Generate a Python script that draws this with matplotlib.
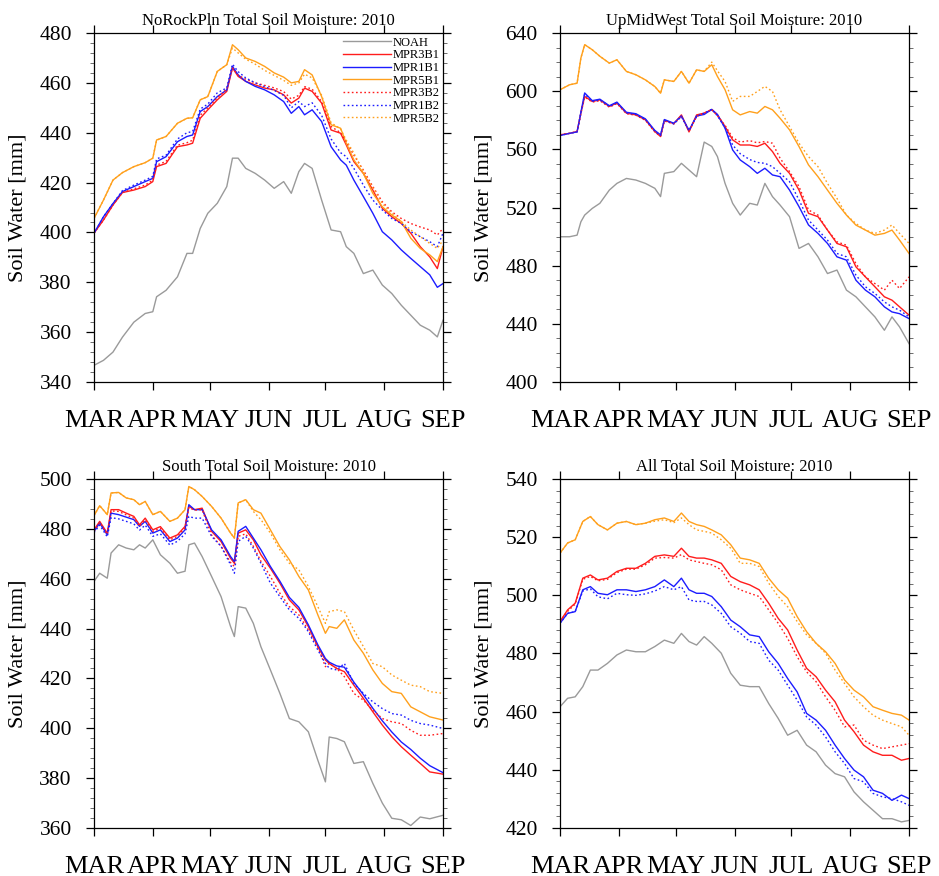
import numpy as np
import matplotlib
matplotlib.use("Agg")
import matplotlib.pyplot as plt
from matplotlib.ticker import MultipleLocator, AutoMinorLocator

plt.rcParams['font.family'] = ['Liberation Serif', 'DejaVu Serif']

# x axis: days since 1 March 2010
months = ['MAR', 'APR', 'MAY', 'JUN', 'JUL', 'AUG', 'SEP']
month_len = [31, 30, 31, 30, 31, 31]
month_start = np.concatenate([[0], np.cumsum(month_len)])

names = ['NOAH', 'MPR3B1', 'MPR1B1', 'MPR5B1', 'MPR3B2', 'MPR1B2', 'MPR5B2']
colors = ['#9a9a9a', '#ff1c1c', '#1c1cff', '#ffa01c', '#ff1c1c', '#1c1cff', '#ffa01c']

# --- NoRockPln ---
days_nrp = [0, 5, 10, 15, 21, 27, 31, 33, 38, 44, 49, 52, 56, 60, 65, 70, 73, 76, 80, 85,
            90, 95, 100, 104, 108, 111, 115, 120, 125, 130, 133, 137, 142, 147, 152, 157,
            162, 167, 172, 177, 181, 184]
noah_nrp = [346.7, 348.7, 352, 358, 364, 367.5, 368.2, 374.2, 376.8, 382.2, 391.6, 391.6,
            401.6, 407.7, 411.7, 418.4, 429.8, 429.8, 425.7, 423.7, 421, 417.7, 420.4, 415.7,
            424.4, 427.7, 425.7, 413, 401, 400.3, 394.3, 391.6, 383.5, 384.9, 378.9, 375.5,
            370.8, 366.8, 362.8, 360.8, 358.1, 364.8]
mpr3b1_nrp = [399.7, 405, 411, 416, 417, 418.4, 420.4, 426.4, 427.7, 434.4, 435.1, 435.8,
              445.8, 449.2, 453.2, 456.6, 466, 462.6, 460.6, 459.2, 457.9, 457.2, 455.2, 451.9,
              453.9, 457.9, 456.6, 451.9, 441.1, 439.8, 435.1, 428.4, 423.7, 417, 409.7, 406.3,
              403.6, 399.7, 394.3, 390.2, 385.5, 394.3]
mpr1b1_nrp = [399.7, 406.3, 411.6, 416.4, 418.4, 420.4, 421.7, 428.4, 430.4, 436.4, 438.5, 439.1,
              448.5, 450.5, 454.5, 457.2, 466.6, 463.2, 460.6, 458.6, 457.2, 455.2, 452.5, 447.8,
              450.5, 447.2, 449.2, 444.5, 434.4, 429.1, 427, 421, 414.4, 407.7, 400.3, 397,
              393, 389.6, 386.3, 383, 378, 379.5]
mpr5b1_nrp = [405.6, 413, 421, 424, 426.4, 428, 429.8, 437.1, 438.5, 443.8, 445.8, 446,
              453.2, 454.5, 464.6, 467.3, 475.3, 473.3, 470, 468.6, 466.6, 464, 462.3, 460,
              460.6, 465.3, 463.2, 454.5, 443.2, 441.8, 435.8, 429.1, 423.7, 415.7, 410.3, 407,
              404.4, 397.7, 393.6, 391, 388.3, 394.3]
mpr3b2_nrp = [399.7, 405, 411, 416, 417.5, 419, 421, 427, 428.5, 435, 436, 437,
              447, 450, 454, 457.5, 466, 463, 461.5, 460, 459, 458, 456.5, 453.5,
              455, 458.5, 457.5, 452.5, 442.5, 440, 436.5, 431, 425, 418.4, 412.3, 408.3,
              405.6, 403.6, 402.2, 401, 399, 401.6]
mpr1b2_nrp = [399.7, 406.3, 411.6, 416.8, 419, 421, 422.5, 429.5, 431, 437.5, 440, 440.5,
              449.5, 451.5, 456, 458, 467.5, 464.5, 462, 460, 458.5, 457, 455, 450,
              452.5, 450.5, 452, 447, 437.5, 432, 430.4, 425.7, 419, 413, 409, 405.6,
              403.6, 400.3, 398.3, 396.3, 394.3, 399.7]
mpr5b2_nrp = [405.6, 413, 421, 424, 426.4, 428, 429.8, 437, 438.5, 443.8, 445.8, 446,
              453.2, 454.5, 464.6, 467.3, 474, 472, 469.5, 467.5, 465, 463, 461, 459,
              460, 463.5, 462, 455, 444, 441.5, 437, 431.8, 424.4, 417.9, 411.6, 407.7,
              404.4, 401, 398.3, 395.6, 393.6, 396.9]

# --- UpMidWest ---
days_umw = [0, 5, 9, 11, 13, 17, 21, 26, 30, 35, 40, 45, 50, 53, 55, 60, 64, 68, 72, 76,
            80, 83, 87, 91, 95, 100, 104, 108, 112, 116, 121, 126, 131, 136, 141, 146, 151,
            156, 161, 166, 171, 175, 179, 184]
noah_umw = [499.9, 499.9, 501, 510.2, 514.8, 519.4, 522.9, 532, 536.6, 540, 538.9, 536.6,
            533.2, 527.5, 543.5, 544.7, 550.4, 545.8, 541.2, 565, 562, 555, 536.6, 522.9,
            514.8, 522.9, 521.7, 536.6, 527.5, 521.7, 513.7, 491.9, 495.3, 486.1, 474.6, 477,
            463.2, 458.6, 451.7, 444.8, 435.6, 444.8, 437.9, 426.4]
mpr3b1_umw = [570, 571, 572.3, 584.9, 596.4, 592.9, 594, 589.5, 591.8, 584.9, 583.7, 580.3,
              572.3, 568.8, 580, 577.7, 583.7, 572, 583.7, 584.9, 587.2, 583.7, 575.7, 566.5,
              563, 563, 562, 564.2, 558.5, 550.4, 543.5, 532, 516, 513.7, 504.5, 495.3,
              493, 479.2, 472.3, 465.5, 458.6, 456.3, 451.7, 446]
mpr1b1_umw = [569.5, 571, 572, 585.5, 598.8, 593.5, 594.5, 590, 592.5, 585.5, 584.5, 581,
              573, 570, 580.5, 578, 583, 573, 583, 584, 587.5, 584, 574.5, 559.6,
              552.7, 548.1, 543.5, 547, 542.4, 541.2, 532, 520.6, 508, 502.2, 495.3, 486.1,
              483.8, 470, 463.2, 458.6, 451.7, 448.2, 447, 443.6]
mpr5b1_umw = [601, 604.4, 605.5, 622.8, 632, 628.5, 624, 619.3, 621.6, 613.6, 611.3, 607.8,
              603.2, 598.6, 607.8, 606.7, 613.6, 605.5, 614.7, 613.6, 618.2, 610.1, 601, 587.2,
              583.7, 586, 584.9, 589.5, 587.2, 581.4, 573.4, 561.9, 549.3, 541.2, 532, 522.9,
              514.8, 507.9, 504.5, 501, 502.2, 504.5, 497.6, 488.4]
mpr3b2_umw = [570, 571, 572.3, 584.5, 596, 592.5, 593.5, 589, 591.5, 584.5, 583.5, 580,
              572, 569, 579.5, 577.5, 583, 572.5, 582.5, 585, 587.5, 583, 576.5, 568,
              565, 566, 564.5, 565.4, 564.2, 553.9, 544.7, 534.4, 518.3, 514.8, 504.5, 496.4,
              494.1, 481.4, 472.3, 467.7, 463.2, 470, 464.3, 472.3]
mpr1b2_umw = [569.5, 571, 572, 585, 598, 593, 594, 589.5, 592, 585, 584, 580.5,
              572.5, 569.5, 580, 577.5, 582.5, 573, 582.5, 585, 587.5, 583, 575, 563,
              557, 553, 551, 550.4, 548.1, 543.5, 537.8, 525.2, 511.4, 504.5, 497.6, 488.4,
              486.1, 473.5, 465.5, 460.9, 455.1, 451.7, 449.4, 444.8]
mpr5b2_umw = [601, 604.4, 605.5, 622.8, 632, 628.5, 624, 619.3, 621.6, 613.6, 611.3, 607.8,
              603.2, 598.6, 607.8, 606.7, 613.6, 605.5, 614.7, 613.6, 620, 614, 606.7, 593,
              596.4, 596.4, 599.8, 603.3, 599.8, 587.2, 575.7, 564.2, 555, 548.1, 536.6, 526.3,
              514.8, 509, 504.5, 502.2, 504.5, 508, 502.2, 495.3]

# --- South ---
days_sth = [0, 3, 7, 9, 13, 17, 21, 24, 27, 31, 35, 40, 44, 48, 50, 53, 57, 62, 67, 72,
            74, 76, 80, 84, 88, 93, 98, 103, 108, 113, 118, 122, 124, 128, 132, 137, 142,
            147, 152, 157, 162, 167, 172, 177, 184]
noah_sth = [458.9, 462.2, 460.2, 470.3, 473.6, 472.3, 471.6, 473.6, 472.3, 475.6, 469.6, 466.2,
            462.2, 463, 473.6, 474.3, 468.9, 460.9, 452.8, 440.8, 436.8, 448.8, 448.2, 442.1,
            432.7, 423.4, 414, 403.9, 402.6, 398.6, 387.2, 378.5, 396.5, 395.9, 394.6, 385.9,
            386.6, 377.9, 370, 363.9, 363.3, 361, 364.4, 363.7, 365.1]
mpr3b1_sth = [479.6, 483, 478.3, 487.7, 487.7, 486.3, 485, 481.6, 484.3, 479.6, 480.9, 476.3,
              477.6, 481, 489, 487.7, 488.3, 479, 474.9, 468.2, 466.2, 478.3, 479.6, 475.6,
              469.6, 464.2, 458.2, 451.5, 447.5, 440.8, 432.7, 427.4, 426, 424, 422.7, 417.3,
              412, 406.6, 401.3, 396.6, 392.6, 389.2, 385.9, 382.5, 381.6]
mpr1b1_sth = [479, 482.3, 477.6, 486.3, 485.7, 484.7, 483.7, 481, 483, 478.3, 479.6, 474.9,
              476.3, 479.6, 489.7, 487.7, 487.7, 479.6, 475.6, 468.9, 466.9, 479, 481, 476.3,
              471.6, 464.9, 459, 452.5, 448.5, 441.5, 433.5, 428, 426.5, 425, 424.5, 418.5,
              413.5, 408, 403, 398.5, 394.5, 391.5, 388, 385, 382.2]
mpr5b1_sth = [485.3, 489.3, 485.7, 494.4, 494.6, 492.4, 491.7, 489.7, 491, 485.7, 487, 483,
              484.3, 487.7, 497, 495.7, 493, 489, 484.3, 478.3, 476.3, 490.4, 491.7, 487.7,
              486.3, 479.6, 472.9, 467.6, 460.9, 455.5, 445.5, 438.1, 440.8, 440.1, 443.5, 435.4,
              430.1, 423.4, 418, 414.7, 414, 408.6, 406.6, 404.6, 403.3]
mpr3b2_sth = [479, 482.5, 477.8, 487.2, 487, 485.6, 484.3, 481, 483.6, 479, 480.2, 475.6,
              477, 480.3, 488.5, 487.5, 487.7, 477.5, 473, 466.5, 464.9, 477, 478, 473,
              467, 460.9, 454.2, 448.8, 445.5, 439.4, 432.7, 424.7, 426, 424, 420.7, 414,
              411.3, 407.3, 403.9, 402.6, 401.9, 399.2, 397.2, 397.2, 397.9]
mpr1b2_sth = [478.5, 481.5, 476.8, 484.5, 484, 483, 482, 479.5, 481.5, 477, 478, 473.5,
              475, 478, 485, 484.3, 484.3, 477, 473, 465.6, 462.2, 475, 477, 472.3,
              466.2, 458.2, 452.8, 447.5, 444.1, 438.8, 431.4, 426, 424.1, 423.4, 426, 418,
              414, 410.6, 407.9, 405.9, 405.3, 403.2, 401.9, 401.3, 399.9]
mpr5b2_sth = [485.3, 489.3, 485.7, 494.4, 494.6, 492.4, 491.7, 489.7, 491, 485.7, 487, 483,
              484.3, 487.7, 497, 495.7, 493, 489, 484.3, 478.3, 476.3, 490.4, 491.7, 487,
              483.7, 478.3, 471.6, 466.2, 463.6, 456.9, 448.8, 442.1, 446.8, 447.5, 446.8, 439.4,
              432.8, 426, 424.7, 421.4, 419.3, 417.3, 416.7, 414.7, 414]

# --- All ---
days_all = [0, 4, 8, 12, 16, 20, 25, 30, 35, 40, 45, 50, 55, 60, 64, 68, 72, 76, 80, 85,
            90, 95, 100, 105, 110, 115, 120, 125, 130, 135, 140, 145, 150, 155, 160, 165,
            170, 175, 180, 184]
noah_all = [461.7, 464.6, 465.1, 468.6, 474.3, 474.3, 476.6, 479.5, 481.2, 480.6, 480.6, 482.4,
            484.6, 483.5, 486.9, 484.1, 482.9, 485.8, 483.5, 480.1, 473.2, 469.1, 468.6, 468.6,
            462.8, 457.7, 451.9, 453.6, 448.5, 446.2, 441.6, 438.7, 437.6, 432.4, 429, 426.1,
            423.2, 423.2, 422.1, 422.6]
mpr3b1_all = [491, 495, 497.3, 505.9, 507, 505.3, 505.9, 508.2, 509.3, 509.3, 511, 513.4,
              513.9, 513.4, 516.2, 513.4, 512.8, 512.8, 512.2, 511, 506.5, 504.7, 503.6, 501.9,
              497.3, 492.1, 488.1, 481.2, 474.9, 472, 467.4, 463.4, 457.1, 453.1, 448.5, 446.2,
              445, 445, 443.3, 443.9]
mpr1b1_all = [490.4, 493.8, 494.4, 501.9, 503, 500.7, 500.2, 501.9, 501.9, 501.3, 501.9, 503,
              505.3, 503, 505.9, 501.9, 500.7, 500.7, 499.6, 496.1, 491.5, 489.2, 486.4, 485.8,
              480.6, 476.6, 471.4, 466.8, 459.4, 457.1, 453.6, 448.5, 443.9, 439.9, 437.6, 433,
              431.9, 429.5, 431.3, 430.1]
mpr5b1_all = [514.5, 518, 519.1, 525.4, 527.1, 524.3, 522.5, 524.8, 525.4, 524.3, 524.8, 526,
              526.6, 525.4, 528.3, 525.4, 524.3, 523.7, 522.5, 520.8, 517.4, 512.8, 512.2, 511,
              505.9, 501.9, 499, 492.7, 487.5, 483.5, 480.6, 476.6, 470.9, 467.4, 465.1, 461.7,
              460.5, 459.4, 458.8, 457.1]
mpr3b2_all = [491, 494.5, 497, 505.5, 506.5, 505, 505.5, 507.8, 509, 509, 510.5, 512.8,
              513, 512.8, 514, 512.2, 511.6, 511, 510.5, 508.8, 503.6, 501.9, 500.7, 499.6,
              495, 490.4, 485.2, 478.9, 473.7, 470.3, 465.1, 460.5, 454.8, 455.4, 450.2, 448.5,
              447.3, 447.9, 448.5, 449]
mpr1b2_all = [490.4, 493.8, 494.4, 501.5, 502.2, 499.5, 498.8, 500.7, 500.2, 500, 500.5, 501.5,
              503, 501.9, 503, 498.4, 497.9, 497.9, 496.7, 493.8, 489.2, 487, 484.1, 483.5,
              477.7, 474.3, 469.1, 464, 458.2, 455.4, 451.3, 446.2, 442.2, 437, 435.9, 431.9,
              430.7, 430.1, 429, 427.8]
mpr5b2_all = [514.5, 518, 519.1, 525.4, 527.1, 524.3, 522.5, 524.8, 525.4, 524.3, 524.8, 525.5,
              526, 525, 526.6, 524.3, 522.5, 522, 521.4, 519.1, 516.2, 511, 511, 509.9,
              504.2, 499.6, 496.1, 491, 486.4, 483.5, 480.1, 474.3, 469.7, 465.1, 461.7, 458.8,
              457.1, 455.9, 454.8, 451.9]

panels = [
    ('NoRockPln', days_nrp, [noah_nrp, mpr3b1_nrp, mpr1b1_nrp, mpr5b1_nrp, mpr3b2_nrp, mpr1b2_nrp, mpr5b2_nrp], (340, 480), 20),
    ('UpMidWest', days_umw, [noah_umw, mpr3b1_umw, mpr1b1_umw, mpr5b1_umw, mpr3b2_umw, mpr1b2_umw, mpr5b2_umw], (400, 640), 40),
    ('South', days_sth, [noah_sth, mpr3b1_sth, mpr1b1_sth, mpr5b1_sth, mpr3b2_sth, mpr1b2_sth, mpr5b2_sth], (360, 500), 20),
    ('All', days_all, [noah_all, mpr3b1_all, mpr1b1_all, mpr5b1_all, mpr3b2_all, mpr1b2_all, mpr5b2_all], (420, 540), 20),
]

fig = plt.figure(figsize=(9.39, 8.76), dpi=100)
positions = [[0.1001, 0.5639, 0.3717, 0.3984], [0.5964, 0.5639, 0.3717, 0.3984],
             [0.1001, 0.0548, 0.3717, 0.3984], [0.5964, 0.0548, 0.3717, 0.3984]]

for i, (region, days, series, ylim, step) in enumerate(panels):
    ax = fig.add_axes(positions[i])
    for j, vals in enumerate(series):
        ls = '-' if j < 4 else (0, (1.2, 1.8))
        ax.plot(days, vals, color=colors[j], lw=1.0, ls=ls, label=names[j])
    ax.set_xlim(0, 184)
    ax.set_ylim(*ylim)
    ax.set_xticks(month_start)
    ax.set_xticklabels(months, fontsize=19)
    ax.yaxis.set_major_locator(MultipleLocator(step))
    ax.yaxis.set_minor_locator(AutoMinorLocator(5 if step == 20 else 4))
    ax.tick_params(axis='both', which='major', direction='out', length=6, width=0.9,
                   top=True, right=True)
    ax.tick_params(axis='y', which='minor', direction='out', length=3, width=0.6,
                   left=True, right=True, color='#555555')
    ax.tick_params(axis='x', which='major', pad=14)
    ax.tick_params(axis='y', which='major', labelsize=15.5, pad=10)
    for sp in ax.spines.values():
        sp.set_linewidth(0.9)
    ax.set_ylabel('Soil Water [mm]', fontsize=16)
    ax.yaxis.set_label_coords(-0.19, 0.5)
    ax.set_title(region + ' Total Soil Moisture: 2010', fontsize=12, y=1.0, pad=6)
    if i == 0:
        ax.legend(loc='upper right', bbox_to_anchor=(1.0, 1.0), frameon=False, fontsize=9,
                  handlelength=3.85, handletextpad=0.1, labelspacing=0.05,
                  borderpad=0.3, borderaxespad=0)

fig.savefig('out.png', dpi=100)
